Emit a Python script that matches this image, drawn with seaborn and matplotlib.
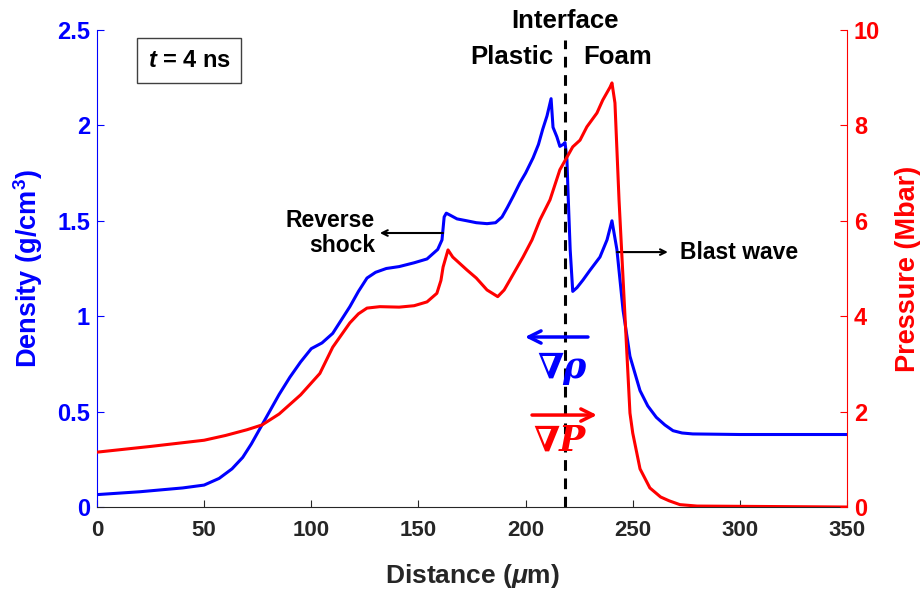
import numpy as np
import matplotlib.pyplot as plt
import pandas as pd
import seaborn as sns

# density profile (blue, left axis)
dist_rho = [0, 20, 40, 50, 57, 63, 68, 72, 77, 85, 90, 95, 100, 105, 110, 118, 122,
            126, 130, 135, 141, 148, 154, 159, 161, 162, 163, 164.7, 168, 172.6, 177,
            182, 186, 189, 191.5, 194.3, 197.4, 200, 203.5, 206, 208, 210, 211.9, 212.8,
            214.6, 216, 217.5, 218.4, 219.3, 219.8, 220.8, 222, 224, 226.8, 230, 234.7,
            238, 240.3, 242.6, 245.5, 248.7, 253.4, 257, 261, 265, 268.8, 273, 278, 300, 350]
density = [0.065, 0.08, 0.10, 0.115, 0.15, 0.2, 0.26, 0.33, 0.43, 0.59, 0.68, 0.76, 0.83,
           0.86, 0.91, 1.05, 1.13, 1.20, 1.23, 1.25, 1.26, 1.28, 1.30, 1.35, 1.40, 1.52,
           1.54, 1.53, 1.51, 1.50, 1.49, 1.485, 1.49, 1.52, 1.57, 1.63, 1.70, 1.75, 1.83,
           1.90, 1.98, 2.05, 2.14, 1.99, 1.94, 1.89, 1.90, 1.91, 1.82, 1.65, 1.35, 1.13,
           1.15, 1.19, 1.24, 1.31, 1.40, 1.50, 1.35, 1.03, 0.79, 0.61, 0.53, 0.47, 0.43,
           0.40, 0.388, 0.383, 0.38, 0.38]

# pressure profile (red, right axis)
dist_p = [0, 25, 50, 60, 70, 77, 85, 95, 100, 104, 110, 118, 122, 126, 132, 141, 148,
          154, 158.6, 160.5, 161.5, 163.8, 166, 172.6, 177, 182, 187, 190, 192.7, 198.8,
          203, 206.7, 211.4, 216, 222, 225.4, 228.6, 233.3, 236, 239.4, 240.3, 241.7,
          243.6, 246.4, 248.7, 250, 253.4, 258, 263, 267, 272, 280, 350]
pressure = [1.15, 1.27, 1.4, 1.5, 1.62, 1.72, 1.95, 2.35, 2.6, 2.8, 3.35, 3.86, 4.05,
            4.17, 4.2, 4.19, 4.22, 4.30, 4.48, 4.75, 5.03, 5.39, 5.24, 4.97, 4.8, 4.55,
            4.41, 4.55, 4.76, 5.24, 5.6, 6.02, 6.44, 7.07, 7.55, 7.69, 7.97, 8.26, 8.53,
            8.8, 8.89, 8.47, 6.44, 3.98, 1.97, 1.55, 0.8, 0.4, 0.21, 0.13, 0.05, 0.02, 0.0]

interface_x = 218.4
x_ticks = [0, 50, 100, 150, 200, 250, 300, 350]
rho_ticks = [0, 0.5, 1, 1.5, 2, 2.5]
p_ticks = [0, 2, 4, 6, 8, 10]

sns.set_style("ticks")
plt.rcParams['font.family'] = ['Liberation Sans', 'DejaVu Sans']
plt.rcParams['text.color'] = 'black'
plt.rcParams['mathtext.fontset'] = 'custom'
plt.rcParams['mathtext.it'] = 'Liberation Sans:italic:bold'
plt.rcParams['mathtext.bf'] = 'Liberation Sans:bold'
plt.rcParams['mathtext.rm'] = 'Liberation Sans:bold'

fig = plt.figure(figsize=(9.21, 5.96), dpi=100)
ax = fig.add_axes([0.1053, 0.1493, 0.8144, 0.8004])
ax2 = ax.twinx()

rho_df = pd.DataFrame({'x': dist_rho, 'y': density})
p_df = pd.DataFrame({'x': dist_p, 'y': pressure})
sns.lineplot(data=rho_df, x='x', y='y', ax=ax, color='blue', lw=2.2, estimator=None)
sns.lineplot(data=p_df, x='x', y='y', ax=ax2, color='red', lw=2.2, estimator=None)

ax.set_xlim(0, 350)
ax.set_ylim(0, 2.5)
ax2.set_ylim(0, 10)

ax.set_xticks(x_ticks, labels=[str(v) for v in x_ticks])
ax.set_yticks(rho_ticks, labels=[f'{v:g}' for v in rho_ticks])
ax2.set_yticks(p_ticks, labels=[str(v) for v in p_ticks])

ax.tick_params(axis='x', direction='in', length=5, width=0.8, colors='#262626', labelsize=16, pad=9)
ax.tick_params(axis='y', direction='in', length=5, width=0.8, colors='blue', labelsize=17, pad=5)
ax2.tick_params(axis='y', direction='in', length=5, width=0.8, colors='red', labelsize=17, pad=5)
for lab in ax.get_xticklabels() + ax.get_yticklabels() + ax2.get_yticklabels():
    lab.set_fontweight('bold')

for s in ['top', 'right']:
    ax.spines[s].set_visible(False)
for s in ['top', 'left', 'bottom']:
    ax2.spines[s].set_visible(False)
ax.spines['left'].set_color('blue')
ax.spines['bottom'].set_color('#262626')
ax2.spines['right'].set_color('red')
for sp in [ax.spines['left'], ax.spines['bottom'], ax2.spines['right']]:
    sp.set_linewidth(0.8)

ax.set_xlabel('Distance ($\\mu$m)', fontsize=19, fontweight='bold', color='#262626')
ax.set_ylabel('Density (g/cm$^{\\mathbf{3}}$)', fontsize=19.5, fontweight='bold', color='blue')
ax2.set_ylabel('Pressure (Mbar)', fontsize=19.5, fontweight='bold', color='red')
ax.xaxis.set_label_coords(0.5, -0.115)
ax.yaxis.set_label_coords(-0.069, 0.5)
ax2.yaxis.set_label_coords(1.064, 0.5)

# interface
ax.axvline(interface_x, ymin=0, ymax=0.979, color='black', ls=(0, (3.5, 2.5)), lw=2.2)
ax.text(interface_x, 2.547, 'Interface', ha='center', va='center', fontsize=18.5,
        fontweight='bold', clip_on=False)
ax.text(212.8, 2.358, 'Plastic', ha='right', va='center', fontsize=18.5, fontweight='bold')
ax.text(226.8, 2.358, 'Foam', ha='left', va='center', fontsize=18.5, fontweight='bold')

# time box
ax.text(43.0, 2.34, '$t$ = 4 ns', ha='center', va='center', fontsize=17, fontweight='bold',
        bbox=dict(boxstyle='square,pad=0.45', fc='white', ec='#404040', lw=1))

# shock annotations
ax.annotate('', xy=(132, 1.436), xytext=(161.5, 1.436),
            arrowprops=dict(arrowstyle='->', color='black', lw=1.5, shrinkA=0, shrinkB=0))
ax.text(129.7, 1.436, 'Reverse\nshock', ha='right', va='center', fontsize=16.5,
        fontweight='bold', multialignment='right', linespacing=1.15)
ax.annotate('', xy=(266.4, 1.336), xytext=(242.6, 1.336),
            arrowprops=dict(arrowstyle='->', color='black', lw=1.5, shrinkA=0, shrinkB=0))
ax.text(272, 1.336, 'Blast wave', ha='left', va='center', fontsize=16.5, fontweight='bold')

# gradient arrows
ax.annotate('', xy=(199.7, 0.891), xytext=(229.1, 0.891),
            arrowprops=dict(arrowstyle='->', color='blue', lw=2.5, mutation_scale=22,
                            shrinkA=0, shrinkB=0))
ax.text(217, 0.73, '∇ρ', ha='center', va='center', fontsize=25, color='blue',
        family=['DejaVu Serif', 'DejaVu Sans'], fontweight='bold', fontstyle='italic')
ax.annotate('', xy=(233.3, 0.482), xytext=(203, 0.482),
            arrowprops=dict(arrowstyle='->', color='red', lw=2.5, mutation_scale=22,
                            shrinkA=0, shrinkB=0))
ax.text(216, 0.346, '∇P', ha='center', va='center', fontsize=25, color='red',
        family=['DejaVu Serif', 'DejaVu Sans'], fontweight='bold', fontstyle='italic')

fig.savefig('out.png', dpi=100)
